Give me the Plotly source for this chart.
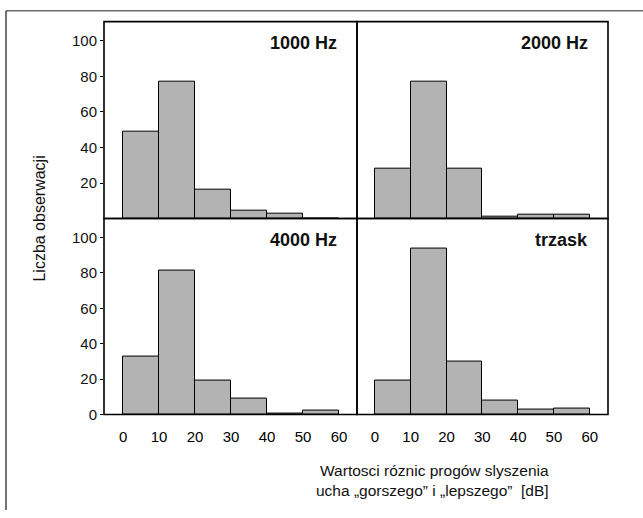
import plotly.graph_objects as go

# Histogram bins: lower edge of each 10 dB class
bin_starts = [0, 10, 20, 30, 40, 50]
bin_width = 10

panel_names = ["1000 Hz", "2000 Hz", "4000 Hz", "trzask"]
counts_1000 = [49, 77, 16, 4.5, 3, 0]
counts_2000 = [28, 77, 28, 1, 2, 2]
counts_4000 = [33, 81.5, 19, 9, 0.5, 2]
counts_trzask = [19, 94, 30, 8, 3, 3.5]

x_ticks = [0, 10, 20, 30, 40, 50, 60]
y_ticks_top = [20, 40, 60, 80, 100]
y_ticks_bottom = [0, 20, 40, 60, 80, 100]

y_title = "Liczba obserwacji"
x_title = "Wartosci róznic progów slyszenia<br>ucha „gorszego” i „lepszego”  [dB]"

W, H = 643, 518
FONT = "Liberation Sans, Arial, sans-serif"
INK = "#111111"


def px_x(p):
    return p / W


def px_y(p):
    return 1 - p / H


# panel layout in pixels: (left, right, top, bottom)
panels = [
    (104, 357, 22, 222),
    (357, 608, 22, 222),
    (104, 357, 222, 421),
    (357, 608, 222, 421),
]
series = [counts_1000, counts_2000, counts_4000, counts_trzask]

fig = go.Figure()
layout = dict(
    width=W,
    height=H,
    margin=dict(l=0, r=0, t=0, b=0),
    paper_bgcolor="white",
    plot_bgcolor="white",
    showlegend=False,
    bargap=0,
    font=dict(family=FONT, color=INK, size=15),
)

annotations = []
shapes = []
for i, ((l, r, t, b), vals, name) in enumerate(zip(panels, series, panel_names)):
    n = "" if i == 0 else str(i + 1)
    fig.add_trace(
        go.Bar(
            x=bin_starts,
            y=vals,
            width=bin_width,
            offset=0,
            marker=dict(color="#b3b3b3", line=dict(color="black", width=1)),
            xaxis="x" + n,
            yaxis="y" + n,
        )
    )
    left_col = i in (0, 2)
    bottom_row = i in (2, 3)
    layout["xaxis" + n] = dict(
        domain=[px_x(l), px_x(r)],
        range=[-5.3, 65] if left_col else [-5.0, 65.1],
        anchor="y" + n,
        showline=False,
        showgrid=False,
        zeroline=False,
        tickvals=x_ticks,
        showticklabels=bottom_row,
        ticks="outside" if bottom_row else "",
        ticklen=9,
        tickcolor="rgba(0,0,0,0)",
        tickfont=dict(size=15, family=FONT, color="#000000"),
    )
    layout["yaxis" + n] = dict(
        domain=[px_y(b), px_y(t)],
        range=[0, 110.7],
        anchor="x" + n,
        showline=False,
        showgrid=False,
        zeroline=False,
        tickvals=y_ticks_bottom if bottom_row else y_ticks_top,
        showticklabels=left_col,
        ticks="outside" if left_col else "",
        ticklen=3,
        tickcolor="black",
        tickfont=dict(size=15, family=FONT, color=INK),
    )
    # panel frame
    shapes.append(
        dict(type="rect", xref="paper", yref="paper",
             x0=px_x(l), x1=px_x(r), y0=px_y(b), y1=px_y(t),
             line=dict(color="black", width=1.6), layer="above")
    )
    annotations.append(
        dict(
            text="<b>%s</b>" % name,
            xref="paper",
            yref="paper",
            x=px_x(r - 18),
            y=px_y(t + 22),
            xanchor="right",
            yanchor="middle",
            showarrow=False,
            font=dict(size=18, family=FONT, color=INK),
        )
    )

annotations.append(
    dict(
        text=y_title,
        xref="paper",
        yref="paper",
        x=px_x(40),
        y=px_y(222),
        textangle=-90,
        xanchor="center",
        yanchor="middle",
        showarrow=False,
        font=dict(size=16, family=FONT, color=INK),
    )
)
annotations.append(
    dict(
        text=x_title,
        xref="paper",
        yref="paper",
        x=px_x(551),
        y=px_y(488),
        xanchor="right",
        yanchor="middle",
        align="right",
        showarrow=False,
        font=dict(size=15.5, family=FONT, color=INK),
    )
)
layout["annotations"] = annotations

# outer frame: left and top rules of the figure box
shapes += [
    dict(type="line", xref="paper", yref="paper",
         x0=px_x(6), x1=px_x(6), y0=0, y1=px_y(11),
         line=dict(color="#444444", width=1.5)),
    dict(type="line", xref="paper", yref="paper",
         x0=px_x(6), x1=1, y0=px_y(11), y1=px_y(11),
         line=dict(color="#222222", width=1)),
]
layout["shapes"] = shapes

fig.update_layout(**layout)
fig.write_html("out.html")
